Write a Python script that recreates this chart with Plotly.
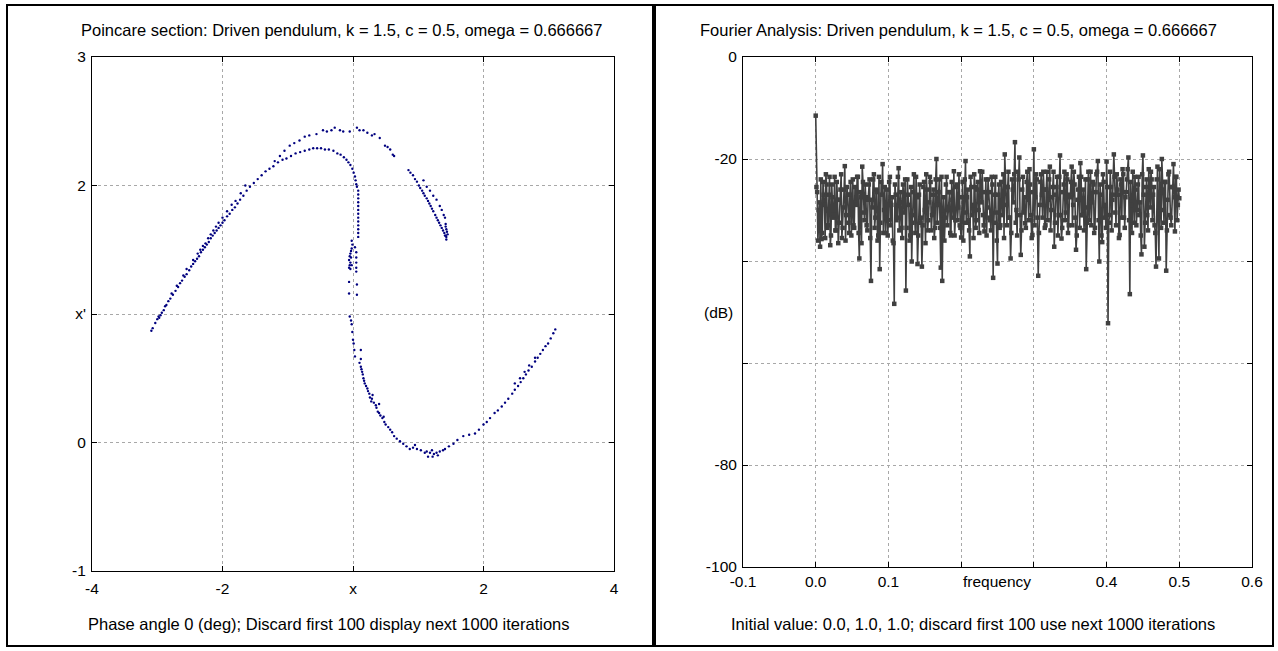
import plotly.graph_objects as go

W, H = 1278, 651

# ---------------- Poincare section data (x, x') ----------------
upper_arc_inner = [(-3.09,0.87),(-3.07,0.89),(-3.03,0.93),(-3.00,0.96),(-2.98,0.98),(-2.95,0.99),(-2.93,1.01),(-2.90,1.03),
    (-2.86,1.07),(-2.83,1.10),(-2.80,1.12),(-2.76,1.15),(-2.72,1.18),(-2.68,1.21),(-2.65,1.24),(-2.62,1.26),(-2.58,1.29),
    (-2.55,1.31),(-2.51,1.34),(-2.48,1.37),(-2.45,1.39),(-2.42,1.41),(-2.39,1.43),(-2.36,1.45),(-2.33,1.48),(-2.30,1.50),
    (-2.27,1.52),(-2.24,1.54),(-2.21,1.56),(-2.18,1.59),(-2.15,1.61),(-2.12,1.63),(-2.09,1.65),(-2.06,1.67),(-2.03,1.69),
    (-2.00,1.71),(-1.97,1.73),(-1.93,1.76),(-1.89,1.78),(-1.85,1.81),(-1.81,1.83),(-1.77,1.86),(-1.73,1.89),(-1.68,1.92),
    (-1.63,1.96),(-1.58,1.99),(-1.52,2.02),(-1.46,2.05),(-1.40,2.08),(-1.34,2.11),(-1.28,2.13),(-1.22,2.15),(-1.15,2.18),
    (-1.08,2.20),(-1.02,2.21),(-0.95,2.23),(-0.88,2.25),(-0.81,2.26),(-0.74,2.27),(-0.67,2.28),(-0.61,2.29),(-0.55,2.29),
    (-0.49,2.29),(-0.43,2.28),(-0.37,2.28),(-0.30,2.27),(-0.24,2.25),(-0.19,2.24),(-0.14,2.22),(-0.10,2.20),(-0.07,2.18),
    (-0.04,2.16),(-0.01,2.13),(0.01,2.10),(0.03,2.07),(0.04,2.04),(0.05,2.01),(0.06,1.99)]
upper_arc_second = [(-2.55,1.35),(-2.45,1.42),(-2.38,1.47),(-2.30,1.53),(-2.22,1.59),(-2.14,1.65),(-2.06,1.71),(-2.00,1.75),
    (-1.93,1.80),(-1.86,1.85),(-1.80,1.88),(-1.72,1.94),(-1.65,2.00),(-2.97,0.97),(-2.88,1.06),(-2.78,1.16),(-2.70,1.22),
    (-2.60,1.30),(-2.34,1.50),(-2.26,1.55),(-2.18,1.62),(-2.10,1.68)]
upper_arc_outer = [(-1.20,2.19),(-1.12,2.23),(-1.05,2.27),(-0.97,2.31),(-0.90,2.33),(-0.82,2.35),(-0.74,2.38),(-0.67,2.39),
    (-0.56,2.40),(-0.46,2.43),(-0.40,2.42),(-0.33,2.43),(-0.28,2.45),(-0.20,2.43),(-0.15,2.42),(-0.05,2.42),(0.06,2.45),
    (0.10,2.43),(0.16,2.43),(0.22,2.41),(0.29,2.39),(0.33,2.40),(0.41,2.37),(0.49,2.31),(0.53,2.30),(0.57,2.28),(0.61,2.24),(0.63,2.23)]
right_branch = [(0.85,2.12),(0.88,2.10),(0.92,2.08),(0.95,2.05),(0.98,2.03),(1.01,2.00),(1.03,1.98),(1.06,1.96),(1.08,1.94),
    (1.10,1.92),(1.13,1.90),(1.15,1.88),(1.17,1.86),(1.19,1.84),(1.21,1.82),(1.23,1.80),(1.26,1.77),(1.28,1.75),(1.30,1.73),
    (1.32,1.71),(1.34,1.69),(1.36,1.67),(1.38,1.65),(1.40,1.63),(1.42,1.61),(1.43,1.60),(1.45,1.62),(1.44,1.64),(1.41,1.61),
    (1.43,1.58),(1.08,2.04),(1.13,1.99),(1.18,1.96),(1.23,1.92),(1.28,1.89),(1.33,1.84),(1.36,1.81),(1.39,1.77),(1.41,1.75),
    (1.42,1.70),(1.42,1.68),(1.43,1.66)]
centre_column = [(0.08,1.96),(0.08,1.93),(0.08,1.90),(0.08,1.87),(0.08,1.84),(0.08,1.81),(0.08,1.78),(0.08,1.75),(0.08,1.72),
    (0.08,1.69),(0.08,1.66),(0.08,1.63),(0.08,1.60),(-0.02,1.57),(-0.01,1.54),(-0.02,1.51),(-0.03,1.49),(-0.04,1.47),
    (-0.05,1.45),(-0.03,1.44),(-0.06,1.42),(-0.04,1.40),(-0.05,1.38),(-0.06,1.36),(-0.04,1.35),(-0.02,1.38),(0.03,1.52),
    (0.05,1.48),(0.05,1.44),(0.05,1.40),(0.05,1.36),(0.05,1.33),(-0.06,1.25),(-0.06,1.16),(0.06,1.23),(0.06,1.15)]
lower_arc = [(-0.05,0.98),(-0.03,0.95),(-0.02,0.92),(-0.01,0.86),(0.00,0.80),(0.01,0.77),(0.02,0.72),(0.03,0.67),(0.12,0.72),
    (0.12,0.65),(0.10,0.62),(0.12,0.59),(0.13,0.57),(0.14,0.55),(0.15,0.53),(0.16,0.50),(0.17,0.48),(0.18,0.46),(0.20,0.44),
    (0.22,0.42),(0.23,0.40),(0.25,0.38),(0.26,0.35),(0.29,0.34),(0.28,0.32),(0.32,0.31),(0.35,0.29),(0.36,0.27),(0.38,0.24),
    (0.40,0.23),(0.42,0.21),(0.45,0.19),(0.48,0.16),(0.50,0.14),(0.54,0.12),(0.57,0.10),(0.60,0.08),(0.63,0.05),(0.67,0.03),
    (0.72,0.01),(0.77,-0.01),(0.82,-0.03),(0.87,-0.05),(0.92,-0.04),(0.98,-0.05),(0.95,-0.02),(1.04,-0.06),(1.10,-0.08),
    (1.13,-0.07),(1.18,-0.08),(1.21,-0.06),(1.24,-0.09),(1.28,-0.08),(1.33,-0.07),(1.38,-0.06),(1.41,-0.05),(1.47,-0.03),
    (1.54,-0.01),(1.60,0.02),(1.69,0.05),(1.78,0.06),(1.87,0.07),(1.93,0.10),(2.00,0.14),(2.05,0.16),(2.10,0.19),(2.17,0.23),
    (2.22,0.25),(2.28,0.28),(2.33,0.31),(2.38,0.34),(2.44,0.38),(2.48,0.41),(2.53,0.44),(2.57,0.47),(2.61,0.50),(2.65,0.53),
    (2.69,0.56),(2.74,0.59),(2.79,0.63),(2.83,0.66),(2.87,0.69),(2.91,0.72),(2.95,0.75),(2.99,0.77),(3.03,0.81),(3.07,0.85),
    (3.10,0.88),(0.30,0.37),(0.40,0.30),(0.47,0.20),(1.22,-0.11),(1.15,-0.11),(1.30,-0.10),(2.48,0.46),(2.56,0.50),
    (2.63,0.55),(2.70,0.60),(2.79,0.66)]

# ---------------- Fourier spectrum data (dB) ----------------
# values at even bins: f = 0.000, 0.002, ..., 0.500
spectrum_db_even = [
    -11.5, -26.5, -30.0, -37.2, -35.7, -24.5, -29.0, -23.0, -33.5, -27.0,
    -36.9, -25.0, -31.5, -23.5, -34.0, -28.0, -32.5, -26.0, -35.5, -29.5,
    -21.4, -31.0, -27.0, -34.5, -24.5, -30.0, -33.0, -25.5, -29.0, -23.5,
    -39.5, -27.5, -21.5, -30.5, -25.0, -33.0, -28.0, -24.0, -43.9, -29.5,
    -23.0, -31.5, -26.5, -35.0, -41.6, -24.5, -21.0, -30.0, -34.5, -26.0,
    -32.0, -23.5, -29.0, -36.0, -48.4, -27.0, -31.5, -21.8, -28.5, -33.5,
    -25.0, -30.5, -45.8, -24.0, -29.0, -35.0, -40.1, -26.5, -31.0, -23.5,
    -40.6, -27.0, -32.5, -41.1, -25.5, -30.0, -23.0, -34.0, -28.5, -24.5,
    -31.0, -26.0, -33.5, -20.0, -29.0, -24.0, -41.3, -43.9, -27.5, -31.5,
    -23.5, -30.0, -26.5, -35.0, -28.0, -22.4, -32.0, -25.0, -29.5, -33.0,
    -35.4, -24.5, -30.5, -20.4, -27.5, -32.0, -39.1, -25.5, -29.0, -23.0,
    -33.5, -26.0, -30.0, -22.4, -28.5, -31.0, -34.2, -24.0, -29.5, -26.5,
    -32.0, -23.5, -43.3, -27.0, -30.5, -40.5, -25.0, -33.0, -28.0, -23.0,
    -19.1, -29.0, -25.5, -31.5, -39.5, -24.0, -28.5, -16.7, -30.0, -22.5,
    -19.7, -38.8, -26.0, -30.5, -32.6, -24.5, -28.0, -22.0, -31.0, -34.9,
    -18.1, -27.5, -24.0, -42.9, -29.0, -23.0, -31.5, -26.0, -33.0, -22.5,
    -28.0, -21.5, -30.0, -25.5, -37.2, -27.0, -23.5, -31.0, -19.3, -35.6,
    -26.5, -22.5, -30.5, -24.0, -33.0, -27.5, -21.5, -29.0, -25.0, -37.8,
    -28.0, -23.5, -20.8, -31.0, -26.0, -29.5, -41.6, -24.0, -32.0, -22.5,
    -28.5, -25.0, -33.5, -23.0, -20.4, -40.1, -27.0, -36.3, -24.5, -29.0,
    -20.5, -52.2, -31.0, -25.5, -28.0, -19.1, -30.5, -23.0, -27.0, -34.9,
    -25.0, -22.0, -31.5, -27.5, -24.0, -19.7, -46.5, -29.0, -22.5, -32.5,
    -26.0, -30.0, -23.5, -28.5, -38.7, -19.3, -37.2, -25.5, -31.0, -22.0,
    -29.5, -24.0, -27.0, -33.0, -41.1, -21.5, -39.5, -26.5, -20.0, -30.0,
    -24.5, -41.9, -28.0, -22.5, -31.5, -25.5, -21.0, -34.2, -23.5, -29.0,
    -27.7]
# values at odd bins: f = 0.001, 0.003, ..., 0.499
spectrum_db_odd = [
    -25.5, -36.0, -28.5, -24.0, -34.5, -27.0, -35.5, -25.0, -33.0, -23.5,
    -35.0, -27.5, -31.0, -34.0, -24.5, -36.5, -28.0, -23.0, -33.5, -26.0,
    -36.0, -25.5, -32.5, -27.0, -35.0, -24.0, -33.5, -28.5, -23.5, -34.5,
    -26.5, -36.5, -24.5, -32.0, -27.5, -34.0, -25.0, -35.5, -28.0, -24.0,
    -33.5, -26.0, -36.0, -23.5, -32.5, -27.0, -34.5, -25.5, -31.5, -35.0,
    -24.5, -33.0, -27.5, -36.5, -25.0, -32.0, -23.5, -34.0, -26.5, -35.5,
    -28.0, -24.0, -33.5, -27.0, -36.0, -25.5, -32.5, -23.0, -34.5, -27.5,
    -35.0, -25.0, -31.5, -33.0, -24.5, -36.5, -26.0, -32.0, -23.5, -34.0,
    -27.0, -35.5, -24.0, -32.5, -26.5, -33.5, -23.5, -31.0, -36.0, -25.0,
    -33.0, -26.5, -34.5, -24.5, -31.5, -35.0, -25.5, -32.0, -23.0, -33.5,
    -27.5, -36.0, -24.0, -32.5, -26.0, -34.0, -23.5, -31.0, -35.5, -25.5,
    -32.0, -24.5, -34.5, -27.0, -22.5, -33.0, -26.5, -35.0, -24.0, -31.5,
    -34.0, -25.0, -32.5, -23.5, -36.0, -27.0, -33.5, -24.5, -31.0, -35.5,
    -25.5, -33.0, -22.5, -31.5, -34.5, -26.0, -23.0, -32.5, -35.0, -24.0,
    -31.0, -34.0, -23.5, -27.5, -33.5, -22.5, -32.0, -25.0, -35.5, -26.5,
    -33.0, -23.0, -31.5, -34.5, -24.5, -27.0, -22.5, -33.5, -26.0, -32.0,
    -24.0, -34.0, -27.5, -22.5, -32.5, -25.5, -35.0, -23.5, -31.0, -33.5,
    -25.0, -32.0, -23.0, -34.5, -27.0, -24.5, -33.0, -22.5, -31.5, -35.0,
    -26.0, -33.5, -23.5, -31.0, -34.0, -24.0, -32.5, -22.5, -27.5, -33.0,
    -24.5, -34.5, -26.5, -22.5, -32.0, -25.0, -35.0, -23.0, -31.5, -33.5,
    -25.5, -32.5, -22.5, -34.0, -27.0, -23.5, -33.0, -26.0, -35.5, -24.0,
    -31.5, -23.0, -33.5, -26.5, -22.0, -32.0, -24.5, -34.5, -27.5, -23.5,
    -33.0, -25.0, -31.0, -35.0, -23.0, -27.0, -32.5, -24.0, -34.0, -26.5,
    -22.5, -32.0, -25.5, -34.5, -24.0, -31.5, -22.0, -33.5, -26.0, -32.5,
    -24.5, -34.0, -23.0, -31.0, -33.0, -25.5, -27.5, -23.5, -32.0, -26.0]
freq_step = 0.001

spectrum_db = []
for i in range(len(spectrum_db_even)):
    spectrum_db.append(spectrum_db_even[i])
    if i < len(spectrum_db_odd):
        spectrum_db.append(spectrum_db_odd[i])
frequencies = [round(i * freq_step, 4) for i in range(len(spectrum_db))]

# tick labels
left_xticks = [-4, -2, 0, 2, 4]
left_xtext = ["-4", "-2", "x", "2", "4"]
left_yticks = [-1, 0, 1, 2, 3]
left_ytext = ["-1", "0", "x'", "2", "3"]
right_xticks = [-0.1, 0.0, 0.1, 0.2, 0.3, 0.4, 0.5, 0.6]
right_xtext = ["-0.1", "0.0", "0.1", "", "", "0.4", "0.5", "0.6"]
right_yticks = [0, -20, -40, -60, -80, -100]
right_ytext = ["0", "-20", "", "", "-80", "-100"]

FONT = "Liberation Sans, Arial, sans-serif"
FS = 15.5
FS_TXT = 16.5
GRID = "#a8a8a8"

fig = go.Figure()
poincare_sets = [upper_arc_inner, upper_arc_second, upper_arc_outer, right_branch, centre_column, lower_arc]
px_all = [p[0] for s in poincare_sets for p in s]
py_all = [p[1] for s in poincare_sets for p in s]
fig.add_trace(go.Scatter(x=px_all, y=py_all, mode="markers", xaxis="x", yaxis="y",
                         marker=dict(color="#00007f", size=2.4, line=dict(width=0)),
                         showlegend=False, hoverinfo="skip"))
fig.add_trace(go.Scatter(x=frequencies, y=spectrum_db, mode="lines+markers", xaxis="x2", yaxis="y2",
                         line=dict(color="#404040", width=1.6),
                         marker=dict(color="#404040", size=4.5, symbol="square", line=dict(width=0)),
                         showlegend=False, hoverinfo="skip"))

def px(v):
    return v / W

def py(v):
    return 1 - v / H

axis_common = dict(showline=True, linecolor="black", linewidth=1, mirror="ticks", ticks="inside",
                   ticklen=5, tickwidth=1, tickcolor="black", showgrid=True, gridcolor=GRID,
                   griddash="dot", gridwidth=1, zeroline=False, automargin=False,
                   tickfont=dict(family=FONT, size=FS, color="black"))

fig.update_layout(
    template="none",
    width=W, height=H, autosize=False,
    margin=dict(l=0, r=0, t=0, b=0, pad=0),
    paper_bgcolor="white", plot_bgcolor="white",
    font=dict(family=FONT, size=FS, color="black"),
    xaxis=dict(domain=[px(92), px(614)], range=[-4, 4], tickvals=left_xticks, ticktext=left_xtext,
               anchor="y", ticklabelstandoff=3, **axis_common),
    yaxis=dict(domain=[py(571), py(57)], range=[-1, 3], tickvals=left_yticks, ticktext=left_ytext,
               anchor="x", ticklabelstandoff=2, **axis_common),
    xaxis2=dict(domain=[px(743), px(1252)], range=[-0.1, 0.6], tickvals=right_xticks, ticktext=right_xtext,
                anchor="y2", ticklabelstandoff=0, **axis_common),
    yaxis2=dict(domain=[py(567), py(57)], range=[-100, 0], tickvals=right_yticks, ticktext=right_ytext,
                anchor="x2", ticklabelstandoff=2, **axis_common),
)

# frames
frame = dict(type="rect", xref="paper", yref="paper", line=dict(color="black", width=2), fillcolor="rgba(0,0,0,0)")
fig.add_shape(x0=px(7), x1=px(653), y0=py(646), y1=py(5), **frame)
fig.add_shape(x0=px(655), x1=px(1273), y0=py(646), y1=py(5), **frame)

ann = dict(showarrow=False, font=dict(family=FONT, size=FS_TXT, color="black"))
fig.add_annotation(text="Poincare section: Driven pendulum, k = 1.5, c = 0.5, omega = 0.666667",
                   xref="paper", yref="paper", x=px(342), y=py(30), xanchor="center", yanchor="middle", **ann)
fig.add_annotation(text="Fourier Analysis: Driven pendulum, k = 1.5, c = 0.5, omega = 0.666667",
                   xref="paper", yref="paper", x=px(958), y=py(30), xanchor="center", yanchor="middle", **ann)
fig.add_annotation(text="Phase angle 0 (deg); Discard first 100 display next 1000 iterations",
                   xref="paper", yref="paper", x=px(329), y=py(624), xanchor="center", yanchor="middle", **ann)
fig.add_annotation(text="Initial value: 0.0, 1.0, 1.0; discard first 100 use next 1000 iterations",
                   xref="paper", yref="paper", x=px(973), y=py(624), xanchor="center", yanchor="middle", **ann)
fig.add_annotation(text="frequency", xref="x2", yref="paper", x=0.25, y=py(581),
                   xanchor="center", yanchor="middle", font=dict(family=FONT, size=FS, color="black"),
                   showarrow=False)
fig.add_annotation(text="(dB)", xref="paper", yref="y2", x=px(718), y=-50,
                   xanchor="center", yanchor="middle", font=dict(family=FONT, size=FS, color="black"),
                   showarrow=False)

fig.write_html("out.html", config={"displayModeBar": False},
               post_script="document.body.style.margin='0px';")
